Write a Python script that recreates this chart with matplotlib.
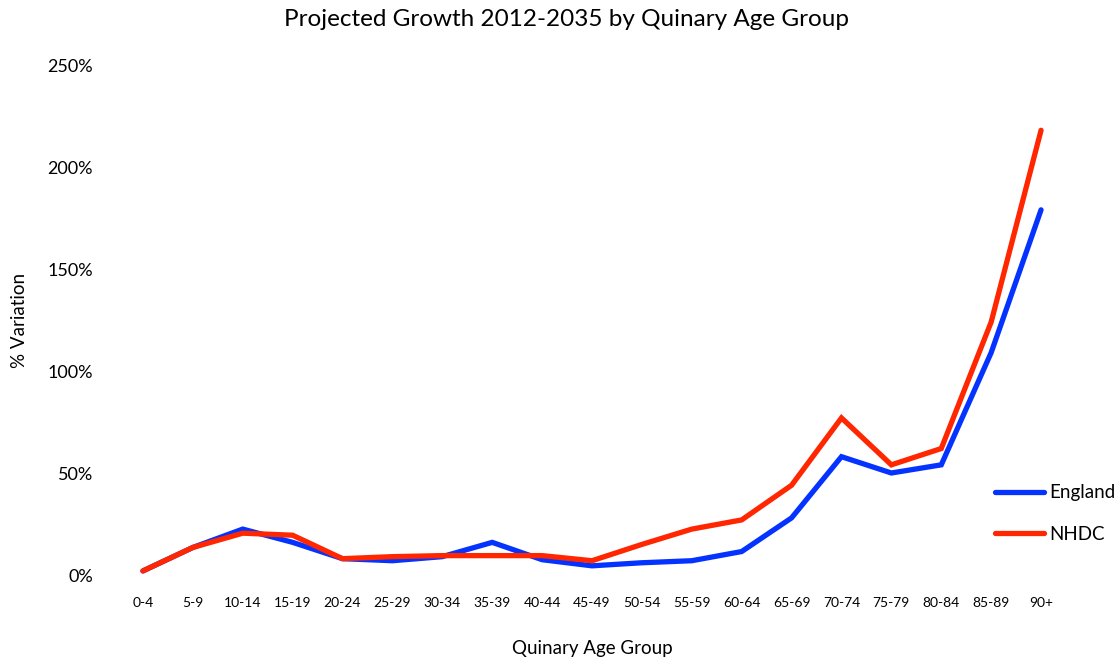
import matplotlib
matplotlib.use("Agg")
import matplotlib.pyplot as plt
from matplotlib.ticker import FuncFormatter

categories = ["0-4", "5-9", "10-14", "15-19", "20-24", "25-29", "30-34", "35-39",
              "40-44", "45-49", "50-54", "55-59", "60-64", "65-69", "70-74",
              "75-79", "80-84", "85-89", "90+"]
england = [2, 13.5, 22.5, 16, 8, 7, 9, 16, 7.5, 4.5, 6, 7, 11.5, 28, 58, 50, 54, 109, 179]
nhdc = [2, 13.5, 20.5, 19.5, 8, 9, 9.5, 9.5, 9.5, 7, 15, 22.5, 27, 44, 77, 54, 62, 124, 218]
yticks = [0, 50, 100, 150, 200, 250]

plt.rcParams['font.family'] = ['Lato', 'DejaVu Sans']

fig = plt.figure(figsize=(11.2, 6.61), dpi=100)
W, H = 1120, 661
left, right = 118, 1066
top, bottom = 65, 575
ax = fig.add_axes([left / W, 1 - bottom / H, (right - left) / W, (bottom - top) / H])

x = list(range(len(categories)))
ax.plot(x, england, color="#0433FF", lw=3.8, solid_capstyle="round", solid_joinstyle="miter", label="England", zorder=2)
ax.plot(x, nhdc, color="#FF2600", lw=3.8, solid_capstyle="round", solid_joinstyle="miter", label="NHDC", zorder=3)

ax.set_xlim(-0.5, len(categories) - 0.5)
ax.set_ylim(0, 250)
ax.set_yticks(yticks)
ax.yaxis.set_major_formatter(FuncFormatter(lambda v, p: f"{int(v)}%"))
ax.set_xticks(x)
ax.set_xticklabels(categories, fontsize=10)
ax.tick_params(axis="y", labelsize=13, length=0, pad=18)
ax.tick_params(axis="x", length=0, pad=16)
for s in ax.spines.values():
    s.set_visible(False)

ax.set_title("Projected Growth 2012-2035 by Quinary Age Group", fontsize=17.5, pad=28, x=0.473)
ax.set_xlabel("Quinary Age Group", fontsize=13.5, labelpad=22)
ax.set_ylabel("% Variation", fontsize=13.5, labelpad=14)

leg = ax.legend(loc="lower right", bbox_to_anchor=(1.07, 0.03), frameon=False,
                fontsize=13.5, handlelength=2.6, handletextpad=0.3, labelspacing=1.3)

fig.savefig("out.png", dpi=100)
